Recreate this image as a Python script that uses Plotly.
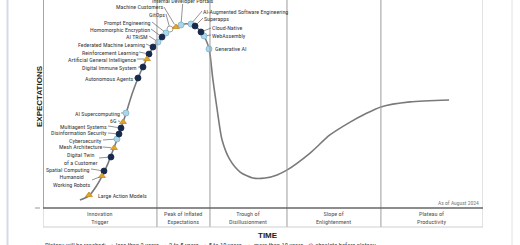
import plotly.graph_objects as go

# ---------------- data ----------------
# hype curve: time (0-100) vs expectations (0-100)
curve_time = [8.4, 10.5, 12.0, 13.4, 14.8, 16.1, 17.3, 18.2, 18.9, 20.2, 21.6, 22.7, 24.1,
              25.5, 27.0, 28.9, 30.7, 32.5, 34.3, 35.9, 37.0, 37.8, 38.6, 39.6, 40.7, 42.5,
              44.8, 47.7, 50.5, 53.2, 55.5, 60.7, 65.2, 69.8, 73.2, 76.8, 83.4, 92.3]
curve_exp = [3.8, 6.0, 10.1, 15.2, 21.6, 28.8, 35.6, 41.3, 45.7, 54.6, 62.5, 67.8, 74.0,
             78.6, 82.2, 86.0, 87.6, 88.6, 87.8, 84.8, 81.0, 76.0, 62.0, 47.0, 32.7, 23.1,
             17.3, 14.4, 14.4, 15.9, 18.3, 26.4, 35.1, 41.3, 45.2, 48.6, 51.0, 51.9]

tech_names = ["Large Action Models", "Humanoid<br>Working Robots", "Spatial Computing",
              "Digital Twin<br>of a Customer", "Mesh Architecture", "Cybersecurity",
              "Disinformation Security", "Multiagent Systems", "6G", "AI Supercomputing",
              "Autonomous Agents", "Digital Immune System", "Artificial General Intelligence",
              "Reinforcement Learning", "Federated Machine Learning", "AI TRiSM",
              "Homomorphic Encryption", "Prompt Engineering", "GitOps", "Machine Customers",
              "Internal Developer Portals", "AI-Augmented Software Engineering", "Superapps",
              "Cloud-Native", "WebAssembly", "Generative AI"]
tech_time = [10.45, 13.41, 13.86, 15.45, 16.14, 16.82, 17.27, 17.73, 18.18, 18.86,
             21.59, 22.73, 23.64, 24.09, 25.0, 26.14, 27.05, 27.95, 28.86, 30.23,
             31.36, 33.64, 34.55, 35.91, 36.59, 37.73]
tech_exp = [6.25, 15.38, 17.79, 24.52, 28.85, 33.17, 35.58, 38.46, 41.35, 45.67,
            62.5, 67.79, 71.63, 74.04, 77.4, 79.8, 82.2, 84.13, 86.06, 87.02,
            87.98, 88.46, 87.5, 84.62, 82.69, 76.44]
tech_plateau = [">10", ">10", "5-10", "5-10", ">10", "2-5", "5-10", "5-10", ">10", "2-5",
                "5-10", "5-10", ">10", "5-10", "5-10", "2-5", "5-10", "2-5", "<2", ">10",
                "2-5", "2-5", "5-10", "5-10", "2-5", "2-5"]

phase_names = ["Innovation<br>Trigger", "Peak of Inflated<br>Expectations",
               "Trough of<br>Disillusionment", "Slope of<br>Enlightenment",
               "Plateau of<br>Productivity"]
phase_bounds = [0, 25.9, 37.95, 55.45, 76.8, 100]

legend_labels = ["Plateau will be reached:", "less than 2 years", "2 to 5 years",
                 "5 to 10 years", "more than 10 years", "obsolete before plateau"]

# ---------------- styles / label placement ----------------
W, H = 520, 245
ML, MR, MT, MB = 43, 37, 0, 37
PW, PH = W - ML - MR, H - MT - MB

style = {
    "<2": dict(symbol="circle", color="white", line="#8a8a8a", size=6),
    "2-5": dict(symbol="circle", color="#a9d6ea", line="#7fb4cc", size=6),
    "5-10": dict(symbol="circle", color="#172a4d", line="#172a4d", size=6),
    ">10": dict(symbol="triangle-up", color="#e2a52a", line="#c98d1a", size=6),
}

# label offsets (pixels, tail relative to marker) and side
label_place = {
    "Large Action Models": (7, 0, "none"),
    "Humanoid<br>Working Robots": (-10, 4, "left"),
    "Spatial Computing": (-13, -2, "left"),
    "Digital Twin<br>of a Customer": (-12, 1, "left"),
    "Mesh Architecture": (-11, -1, "left"),
    "Cybersecurity": (-14, 1, "left"),
    "Disinformation Security": (-11, -1, "left"),
    "Multiagent Systems": (-13, -2, "left"),
    "6G": (-5, -1, "left"),
    "AI Supercomputing": (-5, 0, "left"),
    "Autonomous Agents": (-4, 0, "left"),
    "Digital Immune System": (-5, 0, "left"),
    "Artificial General Intelligence": (-10, 0, "left"),
    "Reinforcement Learning": (-10, -2, "left"),
    "Federated Machine Learning": (-7, -3, "left"),
    "AI TRiSM": (-9, -6, "left"),
    "Homomorphic Encryption": (-11, -8, "left"),
    "Prompt Engineering": (-14, -11, "left"),
    "GitOps": (-4, -15, "left"),
    "Machine Customers": (-12, -20, "left"),
    "Internal Developer Portals": (2, -28.5, "top"),
    "AI-Augmented Software Engineering": (11, -13, "right"),
    "Superapps": (8, -8, "right"),
    "Cloud-Native": (10, -4, "right"),
    "WebAssembly": (7, -1, "right"),
    "Generative AI": (4, -1, "none"),
}

FONT = "Liberation Sans Narrow, Arial Narrow, Roboto Condensed, Liberation Sans, sans-serif"
TXT = "#383838"

fig = go.Figure()

fig.add_trace(go.Scatter(x=curve_time, y=curve_exp, mode="lines",
                         line=dict(color="#7a7a7a", width=1.6, shape="spline", smoothing=0.7),
                         hoverinfo="skip", showlegend=False))

for cat, st in style.items():
    idx = [i for i, c in enumerate(tech_plateau) if c == cat]
    fig.add_trace(go.Scatter(
        x=[tech_time[i] for i in idx], y=[tech_exp[i] for i in idx], mode="markers",
        marker=dict(symbol=st["symbol"], color=st["color"], size=st["size"],
                    line=dict(color=st["line"], width=0.8)),
        showlegend=False, cliponaxis=False, hoverinfo="text",
        text=[tech_names[i] for i in idx]))

annotations = []
for name, tx, ty in zip(tech_names, tech_time, tech_exp):
    ax, ay, side = label_place[name]
    base = dict(x=tx, y=ty, xref="x", yref="y", text=name,
                font=dict(family=FONT, size=6.0, color=TXT), align="center")
    if side == "none":
        annotations.append(dict(base, showarrow=False, xanchor="left", yanchor="middle",
                                xshift=ax, yshift=-ay))
    else:
        xa = {"left": "right", "right": "left", "top": "center"}[side]
        annotations.append(dict(base, showarrow=True, ax=ax, ay=ay, xanchor=xa,
                                yanchor="middle", arrowhead=0, arrowwidth=0.7,
                                arrowcolor="#666666", standoff=3, borderpad=0))


def px_x(p):
    return (p - ML) / PW


def px_y(p):
    return (PH - p) / PH


# phase labels
for i, nm in enumerate(phase_names):
    annotations.append(dict(x=(phase_bounds[i] + phase_bounds[i + 1]) / 2, xref="x",
                            y=px_y(217.5), yref="paper", text=nm, showarrow=False,
                            xanchor="center", yanchor="middle",
                            font=dict(family=FONT, size=6.2, color="#555555"),
                            align="center"))

annotations += [
    dict(x=px_x(39), y=px_y(96), xref="paper", yref="paper", text="<b>EXPECTATIONS</b>",
         textangle=-90, showarrow=False, xanchor="center", yanchor="middle",
         font=dict(family="Liberation Sans, Arial", size=8, color="#222")),
    dict(x=px_x(268), y=px_y(235), xref="paper", yref="paper", text="<b>TIME</b>",
         showarrow=False, xanchor="center", yanchor="middle",
         font=dict(family="Liberation Sans, Arial", size=8, color="#222")),
    dict(x=px_x(481), y=px_y(203), xref="paper", yref="paper", text="As of August 2024",
         xanchor="right", yanchor="middle", showarrow=False,
         font=dict(family=FONT, size=5.6, color="#777")),
]

leg_cols = ["#555", "#8a8a8a", "#7fb4cc", "#172a4d", "#e2a52a", "#d9534f"]
leg_syms = ["", "○ ", "● ", "● ", "▲ ", "⊗ "]
leg_text = "   ".join(f"<span style='color:{c}'>{s}</span>{t}"
                       for c, s, t in zip(leg_cols, leg_syms, legend_labels))
annotations.append(dict(x=px_x(43), y=px_y(246.5), xref="paper", yref="paper", text=leg_text,
                        xanchor="left", yanchor="middle", showarrow=False,
                        font=dict(family=FONT, size=6.5, color="#444")))

shapes = []
# phase dividers
for b in phase_bounds[1:-1]:
    shapes.append(dict(type="line", xref="x", yref="paper", x0=b, x1=b, y0=px_y(227), y1=1,
                       line=dict(color="#9c9c9c", width=1)))
# right border and band borders
shapes.append(dict(type="line", xref="x", yref="paper", x0=100, x1=100, y0=px_y(227), y1=1,
                   line=dict(color="#c4c4c4", width=1)))
shapes.append(dict(type="line", xref="x", yref="paper", x0=0, x1=0, y0=px_y(227), y1=0,
                   line=dict(color="#c4c4c4", width=1)))
shapes.append(dict(type="line", xref="x", yref="paper", x0=0, x1=100, y0=px_y(227), y1=px_y(227),
                   line=dict(color="#cfcfcf", width=1)))
# axes
shapes.append(dict(type="line", xref="x", yref="paper", x0=0, x1=0, y0=0, y1=1,
                   line=dict(color="#6a6a6a", width=1.2)))
shapes.append(dict(type="line", xref="x", yref="paper", x0=0, x1=100, y0=0, y1=0,
                   line=dict(color="#666666", width=1.6)))
shapes.append(dict(type="line", xref="paper", yref="paper", x0=px_x(35), x1=px_x(40),
                   y0=0, y1=0, line=dict(color="#999", width=1)))
# page borders
shapes.append(dict(type="line", xref="paper", yref="paper", x0=px_x(7.5), x1=px_x(7.5),
                   y0=px_y(H), y1=px_y(0), line=dict(color="#d3d9e6", width=2)))
shapes.append(dict(type="line", xref="paper", yref="paper", x0=px_x(512), x1=px_x(512),
                   y0=px_y(H), y1=px_y(0), line=dict(color="#e2e2e2", width=1)))

fig.update_layout(
    width=W, height=H, margin=dict(l=ML, r=MR, t=MT, b=MB, pad=0),
    paper_bgcolor="white", plot_bgcolor="white",
    xaxis=dict(range=[0, 100], visible=False, fixedrange=True),
    yaxis=dict(range=[0, 100], visible=False, fixedrange=True),
    annotations=annotations, shapes=shapes, showlegend=False,
)

fig.write_html("out.html")
